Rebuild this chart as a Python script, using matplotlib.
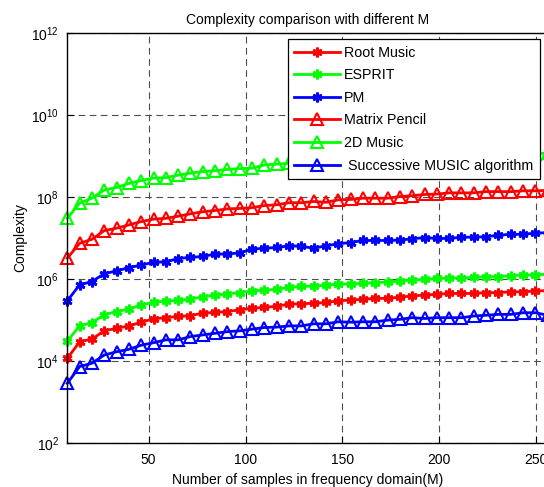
import matplotlib
matplotlib.use("Agg")
import matplotlib.pyplot as plt
import numpy as np

plt.rcParams["font.family"] = ["Liberation Sans", "DejaVu Sans"]
plt.rcParams["mathtext.default"] = "regular"

# sample counts M (40 evenly spaced settings between 8 and 256)
M = np.linspace(8, 256, 40)

# complexity, stored as log10 values
root_music = [4.07, 4.47, 4.54, 4.74, 4.80, 4.86, 4.95, 5.03, 5.06, 5.09,
              5.11, 5.17, 5.19, 5.21, 5.25, 5.29, 5.31, 5.34, 5.39, 5.40,
              5.41, 5.43, 5.47, 5.49, 5.51, 5.53, 5.53, 5.56, 5.59, 5.61,
              5.63, 5.65, 5.65, 5.65, 5.67, 5.67, 5.69, 5.69, 5.71, 5.72]
esprit = [4.49, 4.86, 4.94, 5.13, 5.21, 5.27, 5.37, 5.43, 5.47, 5.48,
          5.51, 5.57, 5.61, 5.64, 5.67, 5.71, 5.73, 5.75, 5.80, 5.82,
          5.83, 5.85, 5.88, 5.88, 5.90, 5.91, 5.93, 5.95, 5.98, 5.99,
          6.02, 6.02, 6.03, 6.04, 6.06, 6.06, 6.08, 6.10, 6.10, 6.12]
pm = [5.47, 5.86, 5.94, 6.13, 6.20, 6.28, 6.34, 6.41, 6.42, 6.50,
      6.53, 6.55, 6.61, 6.61, 6.64, 6.73, 6.75, 6.77, 6.81, 6.80,
      6.75, 6.81, 6.86, 6.89, 6.94, 6.94, 6.94, 6.95, 6.98, 7.01,
      6.99, 6.99, 7.02, 7.02, 7.03, 7.07, 7.09, 7.09, 7.12, 7.13]
matrix_pencil = [6.51, 6.87, 6.97, 7.18, 7.24, 7.32, 7.40, 7.46, 7.48, 7.53,
                 7.59, 7.64, 7.67, 7.71, 7.72, 7.74, 7.79, 7.81, 7.86, 7.86,
                 7.89, 7.87, 7.93, 7.94, 7.97, 7.97, 7.97, 8.01, 8.03, 8.06,
                 8.07, 8.10, 8.10, 8.10, 8.13, 8.13, 8.13, 8.15, 8.15, 8.16]
music_2d = [7.48, 7.85, 7.97, 8.17, 8.23, 8.33, 8.40, 8.46, 8.47, 8.53,
            8.58, 8.62, 8.64, 8.67, 8.69, 8.70, 8.78, 8.80, 8.82, 8.84,
            8.85, 8.87, 8.88, 8.89, 8.90, 8.92, 8.93, 8.94, 8.95, 8.96,
            8.97, 8.98, 8.99, 9.00, 9.01, 9.02, 9.03, 9.04, 9.05, 9.07]
successive_music = [3.46, 3.87, 3.95, 4.15, 4.23, 4.29, 4.39, 4.45, 4.52, 4.52,
                    4.60, 4.64, 4.68, 4.72, 4.74, 4.78, 4.82, 4.83, 4.86, 4.86,
                    4.91, 4.91, 4.96, 4.95, 4.96, 4.96, 5.00, 5.02, 5.06, 5.04,
                    5.06, 5.06, 5.06, 5.10, 5.12, 5.14, 5.14, 5.18, 5.18, 5.12]

series = [
    ("Root Music", root_music, "r", "star"),
    ("ESPRIT", esprit, "#00ff00", "star"),
    ("PM", pm, "b", "star"),
    ("Matrix Pencil", matrix_pencil, "r", "tri"),
    ("2D Music", music_2d, "#00ff00", "tri"),
    (" Successive MUSIC algorithm", successive_music, "b", "tri"),
]

fig = plt.figure(figsize=(5.44, 4.87), dpi=100)
ax = fig.add_axes([0.1237, 0.0897, 0.8831, 0.8431])

for label, vals, color, kind in series:
    y = 10 ** np.array(vals)
    if kind == "star":
        ax.plot(M, y, color=color, lw=2, marker=(6, 2, 0), ms=7, mew=2,
                label=label, clip_on=False)
    else:
        ax.plot(M, y, color=color, lw=2, marker="^", ms=8, mew=1.5,
                mfc="none", label=label, clip_on=False)

ax.set_yscale("log")
ax.set_xlim(8, 256)
ax.set_ylim(1e2, 1e12)
ax.set_xticks([50, 100, 150, 200, 250])
ax.set_yticks([1e2, 1e4, 1e6, 1e8, 1e10, 1e12])
ax.minorticks_off()
ax.tick_params(direction="in", labelsize=10, length=5, width=0.8)
ax.tick_params(axis="x", pad=7)
ax.tick_params(axis="y", pad=6)
ax.grid(True, color="0.3", linestyle=(0, (6, 4)), lw=0.8)
for sp in ax.spines.values():
    sp.set_linewidth(1.0)

ax.set_title("Complexity comparison with different M", fontsize=10, pad=6)
ax.set_xlabel("Number of samples in frequency domain(M)", fontsize=10, labelpad=4)
ax.set_ylabel("Complexity", fontsize=10, labelpad=3)

leg = ax.legend(loc="upper right", bbox_to_anchor=(540 / 544, 1 - 39.3 / 487),
                bbox_transform=fig.transFigure, borderaxespad=0, fontsize=10.3,
                fancybox=False, framealpha=1, edgecolor="k", handlelength=3.2,
                labelspacing=0.6, borderpad=0.45, handletextpad=0.3)
leg.get_frame().set_linewidth(0.9)

fig.savefig("out.png", dpi=100)
